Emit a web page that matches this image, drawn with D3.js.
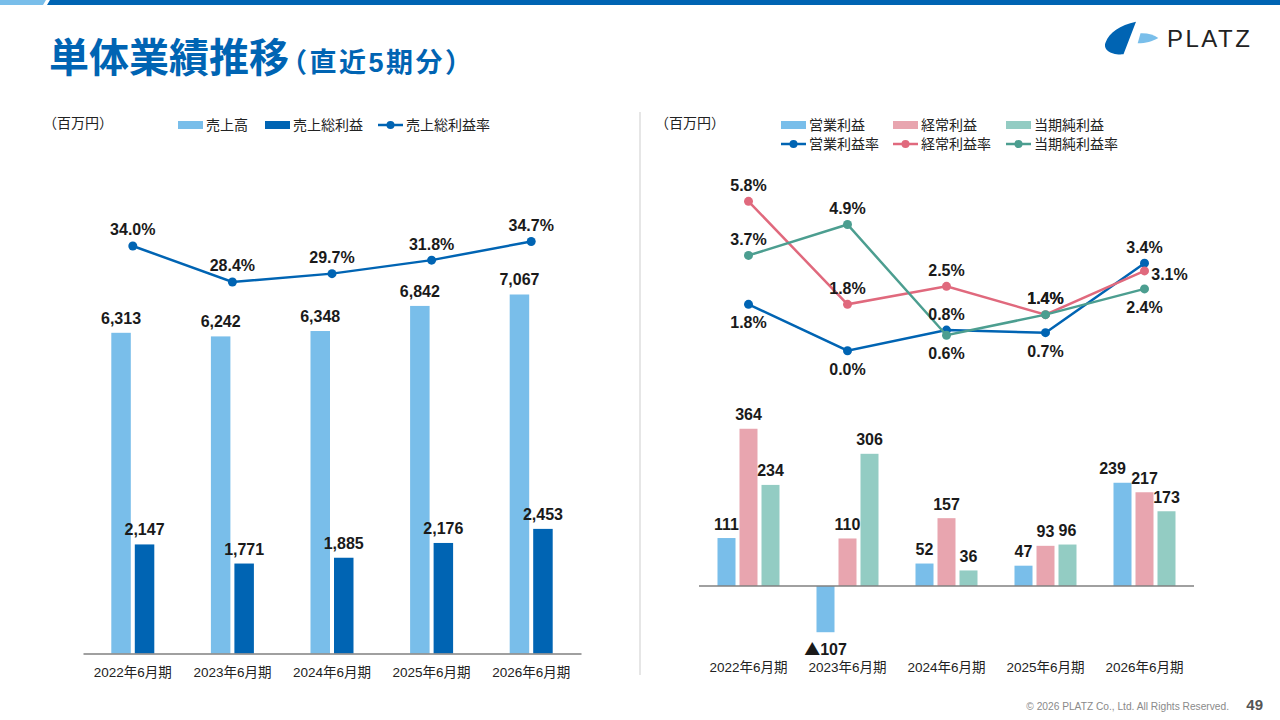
<!DOCTYPE html>
<html>
<head>
<meta charset="utf-8">
<script src="https://cdn.jsdelivr.net/npm/d3@7"></script>
<style>
  body { margin: 0; background: #fff; }
  svg text { font-family: "Liberation Sans", "Noto Sans CJK JP", sans-serif; }
</style>
</head>
<body>
<svg id="slide" width="1280" height="720"></svg>
<script>
// periods on both charts
const periods = ["2022年6月期", "2023年6月期", "2024年6月期", "2025年6月期", "2026年6月期"];

// left chart (百万円 / %)
const sales = [6313, 6242, 6348, 6842, 7067];
const grossProfit = [2147, 1771, 1885, 2176, 2453];
const grossMargin = [34.0, 28.4, 29.7, 31.8, 34.7];

// right chart (百万円 / %)
const profitSeries = ["営業利益", "経常利益", "当期純利益"];
const operatingProfit = [111, -107, 52, 47, 239];
const ordinaryProfit = [364, 110, 157, 93, 217];
const netIncome = [234, 306, 36, 96, 173];
const operatingMargin = [1.8, 0.0, 0.8, 0.7, 3.4];
const ordinaryMargin = [5.8, 1.8, 2.5, 1.4, 3.1];
const netMargin = [3.7, 4.9, 0.6, 1.4, 2.4];

// colours
const lightBlue = "#79beea";
const darkBlue = "#0064b3";
const pinkBar = "#e8a5af";
const tealBar = "#93ccc3";
const pinkLine = "#e0697d";
const tealLine = "#4c9e90";

// where each rate label sits relative to its point
const opLabelSide = ["below", "below", "above", "below", "above"];
const ordLabelSide = ["above", "above", "above", "above", "right"];
const netLabelSide = ["above", "above", "below", "above", "below"];

const svg = d3.select("#slide");
const fmt = d3.format(",");

// ---- header ----
svg.append("polygon").attr("points", "0,0 46,0 43,5 0,5").attr("fill", lightBlue);
svg.append("polygon").attr("points", "50,0 1280,0 1280,5 47,5").attr("fill", darkBlue);

const title = svg.append("text").attr("x", 49).attr("y", 72)
  .attr("fill", darkBlue).attr("font-weight", "bold");
title.append("tspan").attr("font-size", 40).text("単体業績推移");
title.append("tspan").attr("font-size", 27).attr("dx", -9).attr("letter-spacing", 2.5).text("（直近5期分）");

// logo
svg.append("path").attr("fill", darkBlue)
  .attr("d", "M1136,21.7 L1123.5,54.3 C1112,55.5 1102,50 1105.8,42 C1109,33 1120,25 1136,21.7 Z");
svg.append("path").attr("fill", lightBlue)
  .attr("d", "M1140.5,33.3 C1148,33 1154,35 1158.3,38 C1152,41.5 1146,43.3 1137.7,43.3 Z");
svg.append("text").attr("x", 1167).attr("y", 46.5).attr("font-size", 24)
  .attr("letter-spacing", 2.5).attr("fill", "#222").text("PLATZ");

// footer
svg.append("text").attr("x", 1229).attr("y", 710).attr("text-anchor", "end")
  .attr("font-size", 10.2).attr("fill", "#8a8a8a").text("© 2026 PLATZ Co., Ltd. All Rights Reserved.");
svg.append("text").attr("x", 1263).attr("y", 710).attr("text-anchor", "end")
  .attr("font-size", 15).attr("font-weight", "bold").attr("fill", "#555").text("49");

// divider
svg.append("line").attr("x1", 640).attr("x2", 640).attr("y1", 112).attr("y2", 675)
  .attr("stroke", "#e6e6e6").attr("stroke-width", 2);

// ---- legends ----
function legendRect(x, y, color, label) {
  svg.append("rect").attr("x", x).attr("y", y - 4).attr("width", 25).attr("height", 8).attr("fill", color);
  svg.append("text").attr("x", x + 28).attr("y", y + 5).attr("font-size", 14).attr("fill", "#222").text(label);
}
function legendLine(x, y, color, label) {
  svg.append("line").attr("x1", x).attr("x2", x + 25).attr("y1", y).attr("y2", y)
    .attr("stroke", color).attr("stroke-width", 2.5);
  svg.append("circle").attr("cx", x + 12.5).attr("cy", y).attr("r", 4).attr("fill", color);
  svg.append("text").attr("x", x + 28).attr("y", y + 5).attr("font-size", 14).attr("fill", "#222").text(label);
}

svg.append("text").attr("x", 43).attr("y", 128).attr("font-size", 14).attr("fill", "#222").text("（百万円）");
legendRect(178, 125, lightBlue, "売上高");
legendRect(265, 125, darkBlue, "売上総利益");
legendLine(378, 125, darkBlue, "売上総利益率");

svg.append("text").attr("x", 655).attr("y", 128).attr("font-size", 14).attr("fill", "#222").text("（百万円）");
legendRect(781, 125, lightBlue, "営業利益");
legendRect(893, 125, pinkBar, "経常利益");
legendRect(1006, 125, tealBar, "当期純利益");
legendLine(781, 144, darkBlue, "営業利益率");
legendLine(893, 144, pinkLine, "経常利益率");
legendLine(1006, 144, tealLine, "当期純利益率");

// ---- left chart ----
const xL = d3.scaleBand().domain(periods).range([83, 581]);
const yL = d3.scaleLinear().domain([0, 10000]).range([653.5, 145.5]);
const yRate = d3.scaleLinear().domain([20, 40]).range([336, 207.4]);
const cL = p => xL(p) + xL.bandwidth() / 2;
const barWL = 19.5;

const left = svg.append("g");
const leftRows = periods.map((p, i) => ({ p, sales: sales[i], gross: grossProfit[i], rate: grossMargin[i] }));

left.selectAll("rect.sales").data(leftRows).join("rect").attr("class", "sales")
  .attr("x", d => cL(d.p) - 2 - barWL).attr("width", barWL)
  .attr("y", d => yL(d.sales)).attr("height", d => yL(0) - yL(d.sales))
  .attr("fill", lightBlue);
left.selectAll("rect.gross").data(leftRows).join("rect").attr("class", "gross")
  .attr("x", d => cL(d.p) + 2).attr("width", barWL)
  .attr("y", d => yL(d.gross)).attr("height", d => yL(0) - yL(d.gross))
  .attr("fill", darkBlue);

left.selectAll("text.sales").data(leftRows).join("text").attr("class", "sales")
  .attr("x", d => cL(d.p) - 2 - barWL / 2).attr("y", d => yL(d.sales) - 9)
  .attr("text-anchor", "middle").attr("font-size", 16).attr("font-weight", "bold").attr("fill", "#1a1a1a")
  .text(d => fmt(d.sales));
left.selectAll("text.gross").data(leftRows).join("text").attr("class", "gross")
  .attr("x", d => cL(d.p) + 2 + barWL / 2).attr("y", d => yL(d.gross) - 9)
  .attr("text-anchor", "middle").attr("font-size", 16).attr("font-weight", "bold").attr("fill", "#1a1a1a")
  .text(d => fmt(d.gross));

left.append("path").datum(leftRows)
  .attr("fill", "none").attr("stroke", darkBlue).attr("stroke-width", 2.5)
  .attr("d", d3.line().x(d => cL(d.p)).y(d => yRate(d.rate)));
left.selectAll("circle").data(leftRows).join("circle")
  .attr("cx", d => cL(d.p)).attr("cy", d => yRate(d.rate)).attr("r", 4.5).attr("fill", darkBlue);
left.selectAll("text.rate").data(leftRows).join("text").attr("class", "rate")
  .attr("x", d => cL(d.p)).attr("y", d => yRate(d.rate) - 10.5)
  .attr("text-anchor", "middle").attr("font-size", 16).attr("font-weight", "bold").attr("fill", "#1a1a1a")
  .text(d => d.rate.toFixed(1) + "%");

const axL = left.append("g").attr("transform", `translate(0,${yL(0)})`)
  .call(d3.axisBottom(xL).tickSize(0).tickSizeOuter(0).tickPadding(13.5));
axL.select(".domain").attr("stroke", "#808080").attr("stroke-width", 1.5);
axL.selectAll("text").attr("font-size", 13.5).attr("fill", "#222")
  .attr("font-family", "'Liberation Sans', 'Noto Sans CJK JP', sans-serif");

// ---- right chart ----
const xR = d3.scaleBand().domain(periods).range([699, 1194]);
const xSub = d3.scaleBand().domain(profitSeries).range([-31, 31]).paddingInner(4 / 22);
const yR = d3.scaleLinear().domain([-150, 400]).range([650.8, 413.2]);
const yPct = d3.scaleLinear().domain([0, 6]).range([350.7, 196.2]);
const cR = p => xR(p) + xR.bandwidth() / 2;
const barColors = { "営業利益": lightBlue, "経常利益": pinkBar, "当期純利益": tealBar };
const labelShift = { "2026年6月期|営業利益": -10 };

const right = svg.append("g");
const barRows = [];
periods.forEach((p, i) => {
  [operatingProfit, ordinaryProfit, netIncome].forEach((arr, k) => {
    barRows.push({ p, s: profitSeries[k], v: arr[i] });
  });
});

right.selectAll("rect").data(barRows).join("rect")
  .attr("x", d => cR(d.p) + xSub(d.s)).attr("width", xSub.bandwidth())
  .attr("y", d => yR(Math.max(0, d.v))).attr("height", d => Math.abs(yR(d.v) - yR(0)))
  .attr("fill", d => barColors[d.s]);

const barText = right.selectAll("text.bar").data(barRows).join("text").attr("class", "bar")
  .attr("x", d => cR(d.p) + xSub(d.s) + xSub.bandwidth() / 2 + (labelShift[d.p + "|" + d.s] || 0))
  .attr("y", d => d.v >= 0 ? yR(d.v) - 8.5 : yR(d.v) + 22.5)
  .attr("text-anchor", "middle").attr("font-size", 16).attr("font-weight", "bold").attr("fill", "#1a1a1a");
barText.filter(d => d.v < 0).append("tspan")
  .attr("font-family", "'Noto Sans CJK JP', sans-serif").attr("font-weight", "normal").text("▲");
barText.append("tspan").text(d => fmt(Math.abs(d.v)));

right.append("line").attr("x1", 699).attr("x2", 1194).attr("y1", yR(0)).attr("y2", yR(0))
  .attr("stroke", "#808080").attr("stroke-width", 1.5);

const rateSeries = [
  { values: operatingMargin, color: darkBlue, side: opLabelSide },
  { values: ordinaryMargin, color: pinkLine, side: ordLabelSide },
  { values: netMargin, color: tealLine, side: netLabelSide }
];
const line = d3.line().x(d => cR(d.p)).y(d => yPct(d.v));

rateSeries.forEach(s => {
  const pts = periods.map((p, i) => ({ p, v: s.values[i], side: s.side[i] }));
  const g = right.append("g");
  g.append("path").datum(pts).attr("fill", "none").attr("stroke", s.color).attr("stroke-width", 2.5).attr("d", line);
  g.selectAll("circle").data(pts).join("circle")
    .attr("cx", d => cR(d.p)).attr("cy", d => yPct(d.v)).attr("r", 4.5).attr("fill", s.color);
  s.labels = pts;
});
// labels on top of all lines
rateSeries.forEach(s => {
  right.append("g").selectAll("text").data(s.labels).join("text")
    .attr("x", d => cR(d.p) + (d.side === "right" ? 25 : 0))
    .attr("y", d => yPct(d.v) + (d.side === "above" ? -10.5 : d.side === "below" ? 24 : 9))
    .attr("text-anchor", "middle").attr("font-size", 16).attr("font-weight", "bold").attr("fill", "#1a1a1a")
    .text(d => d.v.toFixed(1) + "%");
});

const axR = right.append("g").attr("transform", "translate(0,650)")
  .call(d3.axisBottom(xR).tickSize(0).tickPadding(12));
axR.select(".domain").remove();
axR.selectAll("text").attr("font-size", 13.5).attr("fill", "#222")
  .attr("font-family", "'Liberation Sans', 'Noto Sans CJK JP', sans-serif");
</script>
</body>
</html>
